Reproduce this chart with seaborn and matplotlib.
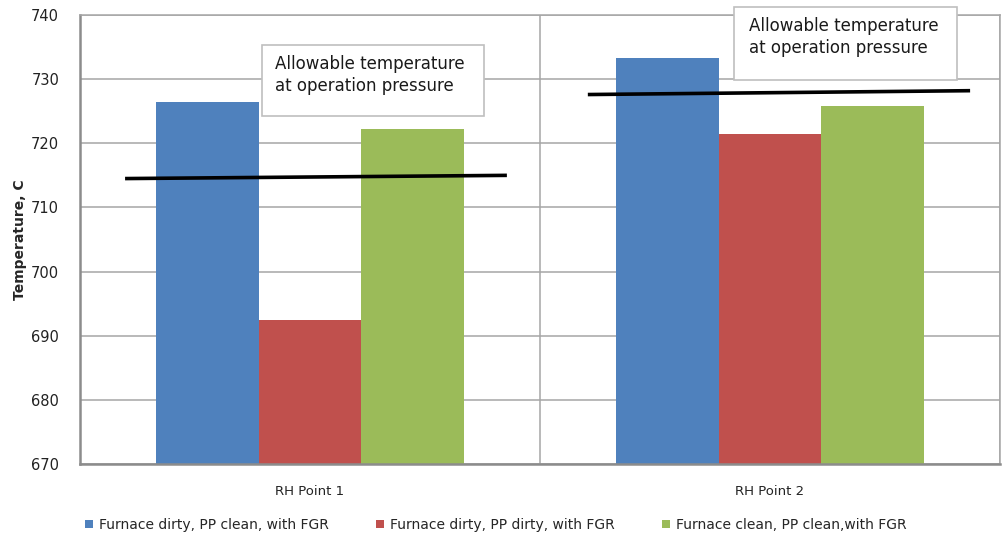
import matplotlib
matplotlib.use("Agg")
import matplotlib.pyplot as plt
import seaborn as sns
import pandas as pd
from matplotlib.patches import Rectangle, Patch

categories = ["RH Point 1", "RH Point 2"]
series_names = ["Furnace dirty, PP clean, with FGR",
                "Furnace dirty, PP dirty, with FGR",
                "Furnace clean, PP clean,with FGR"]
blue_vals = [726.4, 733.3]
red_vals = [692.5, 721.4]
green_vals = [722.3, 725.8]
colors = ["#4F81BD", "#C0504D", "#9BBB59"]
y_ticks = [670, 680, 690, 700, 710, 720, 730, 740]

# allowable temperature lines (x in category units, y in °C)
line1_x = [-0.402, 0.428]
line1_y = [714.5, 715.0]
line2_x = [0.604, 1.435]
line2_y = [727.6, 728.2]
note_text = "Allowable temperature\nat operation pressure"

rows = []
for s, vals in zip(series_names, [blue_vals, red_vals, green_vals]):
    for c, v in zip(categories, vals):
        rows.append({"category": c, "series": s, "value": v})
df = pd.DataFrame(rows)

sns.set_style("white")
plt.rcParams["font.family"] = ["DejaVu Sans"]

fig = plt.figure(figsize=(10.05, 5.4), dpi=100)
ax = fig.add_axes([80/1005, 1-464/540, 920/1005, 449/540])

sns.barplot(data=df, x="category", y="value", hue="series", order=categories,
            hue_order=series_names, palette=colors, width=0.668, saturation=1,
            ax=ax, legend=False, linewidth=0, errorbar=None)

ax.set_ylim(670, 740)
ax.set_xlim(-0.5, 1.5)
ax.set_yticks(y_ticks)
ax.set_yticklabels([str(t) for t in y_ticks], fontsize=10.5, color="#222222")
ax.set_xticks([-0.5, 0.5, 1.5], minor=False)
ax.set_xticklabels(["", "", ""])
ax.set_xticks([0, 1], minor=True)
ax.set_xticklabels(categories, minor=True, fontsize=9.5, color="#222222")
ax.tick_params(axis="x", which="minor", length=0, pad=15)
ax.tick_params(axis="x", which="major", length=6, color="#8C8C8C", width=1.2, direction="out")
ax.tick_params(axis="y", length=7, color="#8C8C8C", width=1.2, direction="out", pad=8)
ax.set_xlabel("")
ax.set_ylabel("Temperature, C", fontsize=10, fontweight="bold", labelpad=3)
ax.grid(True, axis="y", color="#A6A6A6", linewidth=1.1)
ax.grid(True, axis="x", which="major", color="#A6A6A6", linewidth=1.1)
ax.set_axisbelow(True)
for sp in ax.spines.values():
    sp.set_visible(True)
    sp.set_color("#A6A6A6")
    sp.set_linewidth(1.1)
ax.spines["left"].set_color("#8C8C8C")
ax.spines["left"].set_linewidth(1.8)
ax.spines["bottom"].set_color("#8C8C8C")
ax.spines["bottom"].set_linewidth(1.8)

ax.plot(line1_x, line1_y, color="black", linewidth=2.6, solid_capstyle="butt")
ax.plot(line2_x, line2_y, color="black", linewidth=2.6, solid_capstyle="butt")

# note boxes
ax.add_patch(Rectangle((0.198, 0.775), 0.241, 0.158, transform=ax.transAxes,
                       facecolor="white", edgecolor="#BFBFBF", linewidth=1.2,
                       zorder=5, clip_on=False))
ax.text(0.212, 0.912, note_text, transform=ax.transAxes, fontsize=12,
        va="top", ha="left", linespacing=1.3, color="#1A1A1A", zorder=6)
ax.add_patch(Rectangle((0.711, 0.855), 0.242, 0.163, transform=ax.transAxes,
                       facecolor="white", edgecolor="#BFBFBF", linewidth=1.2,
                       zorder=5, clip_on=False))
ax.text(0.727, 0.995, note_text, transform=ax.transAxes, fontsize=12,
        va="top", ha="left", linespacing=1.3, color="#1A1A1A", zorder=6,
        clip_on=False)

handles = [Patch(facecolor=c, edgecolor="none") for c in colors]
fig.legend(handles, series_names, loc="center left", bbox_to_anchor=(0.072, 0.028),
           ncol=3, frameon=False, fontsize=10, handlelength=0.6, handleheight=0.6,
           handletextpad=0.4, columnspacing=3.4)

fig.savefig("out.png", dpi=100)
